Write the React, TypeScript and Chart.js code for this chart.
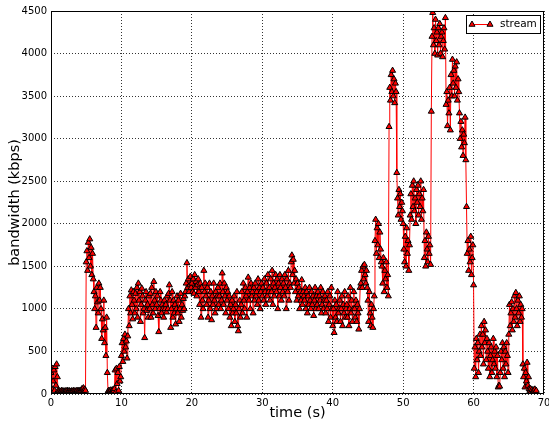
import React, { useEffect, useRef } from "react";
import { Chart, registerables } from "chart.js";

Chart.register(...registerables);

const SERIES_LABEL = "stream";
const X_TITLE = "time (s)";
const Y_TITLE = "bandwidth (kbps)";
const SAMPLE_INTERVAL_S = 0.1;
const X_TICKS = [0, 10, 20, 30, 40, 50, 60, 70];
const Y_TICKS = [0, 500, 1000, 1500, 2000, 2500, 3000, 3500, 4000, 4500];

// bandwidth samples (kbps), one every 0.1 s
const bw00to10 = [
  250, 60, 300, 150, 280, 40, 320, 100, 350, 200,
  40, 30, 35, 25, 30, 40, 30, 35, 28, 32,
  30, 35, 28, 40, 30, 32, 36, 30, 28, 34,
  32, 30, 38, 30, 35, 28, 32, 40, 30, 35,
  38, 30, 42, 35, 60, 40, 70, 45, 55, 40,
  1550, 1680, 1450, 1780, 1600, 1820, 1500, 1720, 1400, 1650,
  1350, 1200, 1000, 1150, 780, 1250, 1080, 950, 1300, 1100,
  1250, 1000, 650, 880, 750, 1100, 600, 780, 450, 900,
  250, 30, 40, 35, 30, 45, 30, 38, 50, 35,
  60, 280, 20, 300, 120, 250, 40, 320, 150, 200,
];
const bw10to20 = [
  450, 600, 380, 650, 500, 700, 550, 620, 420, 680,
  1000, 800, 1150, 950, 1220, 1050, 880, 1200, 1100, 950,
  1180, 1000, 1250, 900, 1300, 1100, 1200, 850, 1050, 1240,
  1150, 950, 1000, 660, 1100, 1200, 980, 1050, 900, 1150,
  1000, 1180, 900, 1250, 1050, 950, 1320, 1100, 1000, 1200,
  1050, 1150, 920, 730, 1000, 1200, 1100, 950, 1050, 1000,
  900, 1100, 1000, 1050, 960, 1150, 1000, 1180, 1280, 1100,
  780, 1000, 1200, 900, 1100, 950, 1050, 820, 1000, 1150,
  950, 1100, 850, 1000, 1180, 900, 1050, 980, 1120, 1000,
  1150, 1200, 1300, 1540, 1250, 1350, 1200, 1280, 1380, 1250,
];
const bw20to30 = [
  1300, 1200, 1350, 1180, 1400, 1250, 1320, 1150, 1280, 1350,
  1200, 1050, 1300, 900, 1250, 1100, 1000, 1450, 1200, 1300,
  1150, 1050, 1250, 900, 1100, 1300, 1000, 1200, 870, 1150,
  1050, 1300, 1100, 950, 1200, 1000, 1150, 1250, 1050, 1150,
  1300, 1000, 1100, 1420, 1200, 1050, 1300, 1150, 950, 1250,
  1100, 1200, 1000, 1150, 900, 1050, 800, 1100, 950, 1000,
  1150, 850, 1050, 950, 1200, 800, 740, 1000, 1100, 900,
  1050, 1200, 950, 1300, 1100, 1000, 1250, 1150, 900, 1200,
  1370, 1100, 1250, 1000, 1300, 1150, 1200, 950, 1250, 1100,
  1300, 1150, 1200, 1050, 1350, 1100, 1250, 1000, 1200, 1300,
];
const bw30to40 = [
  1150, 1250, 1100, 1350, 1200, 1050, 1300, 1150, 1400, 1200,
  1250, 1100, 1350, 1200, 1450, 1050, 1300, 1150, 1250, 1400,
  1200, 1350, 1000, 1300, 1150, 1400, 1250, 1100, 1350, 1200,
  1300, 1150, 1400, 1250, 1000, 1350, 1200, 1450, 1100, 1300,
  1250, 1550, 1630, 1400, 1580, 1300, 1450, 1200, 1350, 1100,
  1300, 1150, 1250, 1000, 1200, 1100, 1340, 1050, 1200, 1150,
  1100, 1250, 1000, 1200, 950, 1150, 1050, 1250, 1100, 1000,
  1200, 1050, 1150, 920, 1100, 1250, 1000, 1150, 1050, 1200,
  1000, 1150, 1100, 1250, 950, 1050, 1200, 1000, 1100, 1150,
  950, 1100, 1000, 1200, 850, 1050, 1150, 900, 1250, 1000,
];
const bw40to50 = [
  800, 1000, 720, 1100, 900, 1050, 850, 1200, 950, 1000,
  1100, 850, 1000, 1150, 800, 1050, 950, 1200, 900, 1000,
  1050, 900, 1150, 800, 1000, 1250, 950, 1100, 850, 1000,
  1200, 1000, 900, 1100, 850, 1050, 950, 760, 1000, 1250,
  1300, 1450, 1250, 1500, 1350, 1520, 1400, 1300, 1450, 1250,
  1100, 850, 1200, 950, 800, 1050, 900, 780, 1000, 1150,
  1800, 2050, 1650, 1950, 1750, 2000, 1600, 1900, 1700, 1550,
  1500, 1300, 1600, 1200, 1450, 1350, 1550, 1250, 1400, 1150,
  3140, 3600, 3450, 3750, 3550, 3800, 3500, 3700, 3420, 3650,
  3550, 2600, 2300, 2100, 2400, 2200, 2350, 2050, 2250, 2150,
];
const bw50to60 = [
  2000, 1700, 1550, 1850, 1500, 1950, 1650, 1800, 1450, 1750,
  2100, 2350, 2050, 2450, 2200, 2500, 2150, 2300, 2000, 2400,
  2250, 2450, 2100, 2350, 2200, 2500, 2050, 2300, 2150, 2400,
  1600, 1800, 1500, 1900, 1700, 1550, 1850, 1650, 1750, 1520,
  3320, 4200, 4480, 4100, 4300, 4000, 4400, 4150, 4250, 3980,
  4300, 4100, 4350, 4000, 4200, 4250, 3960, 4150, 4300, 4050,
  4420, 3400, 3550, 3150, 3450, 3300, 3600, 3100, 3750, 3500,
  3930, 3650, 3800, 3500, 3850, 3600, 3900, 3450, 3700, 3550,
  3300, 3000, 3200, 2900, 3100, 2800, 3050, 2950, 3250, 2750,
  2200, 1650, 1800, 1450, 1700, 1550, 1850, 1400, 1600, 1750,
];
const bw60to69 = [
  1280, 300, 550, 200, 650, 400, 600, 250, 500, 700,
  450, 800, 550, 700, 350, 850, 600, 750, 400, 650,
  500, 300, 600, 200, 450, 550, 250, 400, 650, 350,
  500, 300, 550, 200, 450, 80, 100, 90, 250, 500,
  400, 600, 300, 550, 200, 500, 350, 600, 450, 250,
  700, 1050, 800, 950, 1080, 750, 1000, 850, 1150, 900,
  1190, 1000, 800, 1100, 950, 1150, 850, 1050, 900, 1000,
  350, 200, 300, 80, 250, 150, 370, 100, 200, 60,
  40, 60, 30, 50, 20, 45, 35, 55, 25, 40,
];

const FONT = "DejaVu Sans";

function drawTriangle(ctx: CanvasRenderingContext2D, x: number, y: number, r: number) {
  ctx.beginPath();
  ctx.moveTo(x, y - r);
  ctx.lineTo(x + 0.866 * r, y + 0.5 * r);
  ctx.lineTo(x - 0.866 * r, y + 0.5 * r);
  ctx.closePath();
  ctx.fillStyle = "#ff0000";
  ctx.fill();
  ctx.strokeStyle = "#000000";
  ctx.lineWidth = 1;
  ctx.stroke();
}

const frameLegendPlugin = {
  id: "frameLegend",
  afterDraw(chart: any) {
    const { ctx, chartArea } = chart;
    const { left, right, top, bottom } = chartArea;
    ctx.save();
    ctx.setLineDash([]);
    ctx.strokeStyle = "#000000";
    ctx.lineWidth = 1;
    ctx.strokeRect(Math.round(left) + 0.5, Math.round(top) + 0.5, Math.round(right - left) - 1, Math.round(bottom - top) - 1);

    // legend box in upper right of plot area
    const bw = 74;
    const bh = 18;
    const bx = Math.round(right) - 4 - bw;
    const by = Math.round(top) + 4;
    ctx.fillStyle = "#ffffff";
    ctx.fillRect(bx + 0.5, by + 0.5, bw, bh);
    ctx.strokeStyle = "#000000";
    ctx.strokeRect(bx + 0.5, by + 0.5, bw, bh);
    const ly = by + bh / 2 + 0.5;
    const lx1 = bx + 6;
    const lx2 = bx + 24;
    ctx.beginPath();
    ctx.moveTo(lx1, ly);
    ctx.lineTo(lx2, ly);
    ctx.strokeStyle = "#ff0000";
    ctx.lineWidth = 1;
    ctx.stroke();
    drawTriangle(ctx, lx1, ly, 3.5);
    drawTriangle(ctx, lx2, ly, 3.5);
    ctx.fillStyle = "#000000";
    ctx.font = `10.5px "${FONT}"`;
    ctx.textBaseline = "middle";
    ctx.textAlign = "left";
    ctx.fillText(chart.data.datasets[0].label, bx + 34, ly);
    ctx.restore();
  },
};

export default function App() {
  const ref = useRef<HTMLCanvasElement>(null);

  useEffect(() => {
    const bandwidth = [
      ...bw00to10, ...bw10to20, ...bw20to30, ...bw30to40,
      ...bw40to50, ...bw50to60, ...bw60to69,
    ];
    const points = bandwidth.map((v, i) => ({
      x: Math.round(i * SAMPLE_INTERVAL_S * 10) / 10,
      y: v,
    }));

    const tickFont = { family: FONT, size: 10 };
    const titleFont = { family: FONT, size: 14.5 };
    const plain = (v: any) => String(v);

    const chart = new Chart(ref.current as HTMLCanvasElement, {
      type: "line",
      data: {
        datasets: [
          {
            label: SERIES_LABEL,
            data: points,
            borderColor: "#ff0000",
            borderWidth: 1,
            pointStyle: "triangle",
            pointRadius: 3.5,
            pointBackgroundColor: "#ff0000",
            pointBorderColor: "#000000",
            pointBorderWidth: 1,
            tension: 0,
            fill: false,
          },
        ],
      },
      options: {
        responsive: false,
        animation: false,
        layout: { padding: { top: 11, right: 4, left: 0, bottom: 0 } },
        plugins: {
          legend: { display: false },
          tooltip: { enabled: false },
        },
        scales: {
          x: {
            type: "linear",
            min: 0,
            max: 70,
            afterBuildTicks: (s: any) => {
              s.ticks = X_TICKS.map((v) => ({ value: v }));
            },
            afterFit: (s: any) => {
              s.height = 31;
              s.paddingLeft = 0;
              s.paddingRight = 0;
            },
            grid: { color: "#000000", lineWidth: 0.8, drawTicks: false },
            border: { display: false, dash: [1, 2] },
            ticks: { padding: 3, color: "#000000", font: tickFont, maxRotation: 0, autoSkip: false, callback: plain },
            title: {
              display: true,
              text: X_TITLE,
              color: "#000000",
              font: titleFont,
              padding: { top: 0, bottom: 3 },
            },
          },
          y: {
            type: "linear",
            min: 0,
            max: 4500,
            afterBuildTicks: (s: any) => {
              s.ticks = Y_TICKS.map((v) => ({ value: v }));
            },
            afterFit: (s: any) => {
              s.width = 51;
              s.paddingTop = 0;
              s.paddingBottom = 0;
            },
            grid: { color: "#000000", lineWidth: 0.8, drawTicks: false },
            border: { display: false, dash: [1, 2] },
            ticks: { padding: 4, color: "#000000", font: tickFont, autoSkip: false, callback: plain },
            title: {
              display: true,
              text: Y_TITLE,
              color: "#000000",
              font: titleFont,
              padding: { top: 7, bottom: 0 },
            },
          },
        },
      },
      plugins: [frameLegendPlugin],
    });
    return () => chart.destroy();
  }, []);

  return (
    <div style={{ position: "absolute", left: 0, top: 0, width: 549, height: 425, background: "#ffffff" }}>
      <canvas ref={ref} width={549} height={425} />
    </div>
  );
}
